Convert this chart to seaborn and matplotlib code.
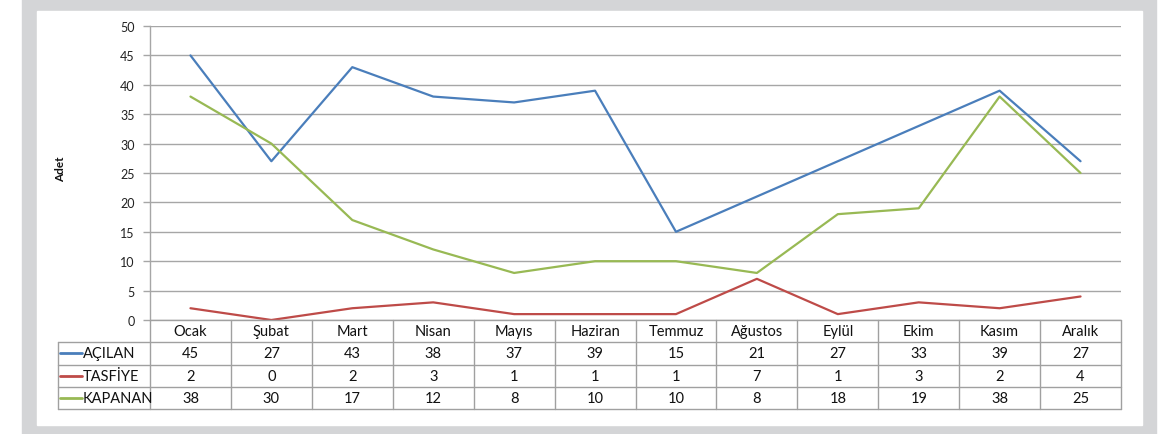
import pandas as pd
import matplotlib
matplotlib.use("Agg")
import matplotlib.pyplot as plt
import seaborn as sns
from matplotlib.patches import Rectangle

months = ["Ocak", "Şubat", "Mart", "Nisan", "Mayıs", "Haziran",
          "Temmuz", "Ağustos", "Eylül", "Ekim", "Kasım", "Aralık"]
acilan = [45, 27, 43, 38, 37, 39, 15, 21, 27, 33, 39, 27]
tasfiye = [2, 0, 2, 3, 1, 1, 1, 7, 1, 3, 2, 4]
kapanan = [38, 30, 17, 12, 8, 10, 10, 8, 18, 19, 38, 25]
series_names = ["AÇILAN", "TASFİYE", "KAPANAN"]
colors = ["#4a7ebb", "#be4b48", "#98b954"]
y_ticks = [0, 5, 10, 15, 20, 25, 30, 35, 40, 45, 50]

sns.set_theme(style="white")
plt.rcParams["font.family"] = ["Lato", "DejaVu Sans"]

W, H = 1167, 435
fig = plt.figure(figsize=(W / 100, H / 100), dpi=100)

# cadre gris + fond blanc
fig.patches.append(Rectangle((22 / W, 0), (1156 - 22) / W, 1, transform=fig.transFigure,
                             color="#d4d5d7", zorder=-10))
fig.patches.append(Rectangle((37 / W, 1 - 426 / H), (1142 - 37) / W, (426 - 12) / H,
                             transform=fig.transFigure, color="white", zorder=-9))

left, right, top, bottom = 150, 1121, 27, 321
ax = fig.add_axes([left / W, 1 - bottom / H, (right - left) / W, (bottom - top) / H])
ax.set_facecolor("none")

rows = []
for name, vals in zip(series_names, [acilan, tasfiye, kapanan]):
    for m, v in zip(months, vals):
        rows.append({"Ay": m, "Seri": name, "Adet": v})
df = pd.DataFrame(rows)

sns.lineplot(data=df, x="Ay", y="Adet", hue="Seri", hue_order=series_names,
             palette=colors, sort=False, linewidth=1.6, legend=False, ax=ax)

ax.set_xlim(-0.5, len(months) - 0.5)
ax.set_ylim(0, 50)
ax.set_yticks(y_ticks)
ax.set_yticklabels([str(t) for t in y_ticks], fontsize=9, color="#222222")
ax.set_xticks([])
ax.set_xlabel("")
ax.set_ylabel("")
ax.yaxis.grid(True, color="#a6a6a6", linewidth=1)
ax.tick_params(axis="y", which="both", left=True, length=5, width=1, color="#a6a6a6", pad=6)
for s in ["top", "right", "bottom"]:
    ax.spines[s].set_visible(False)
ax.spines["left"].set_color("#a6a6a6")
ax.spines["left"].set_linewidth(1)
ax.set_axisbelow(True)

fig.text(61 / W, 1 - 169 / H, "Adet", rotation=90, ha="center", va="center",
         fontsize=8.5, fontweight="bold", color="#111111")

# tableau de données
cat_w = (right - left) / len(months)
leg_left = 58
tab_bottom = 410
tax = fig.add_axes([leg_left / W, 1 - tab_bottom / H, (right - leg_left) / W, (tab_bottom - bottom) / H])
x0 = -0.5 - (left - leg_left) / cat_w
tax.set_xlim(x0, len(months) - 0.5)
tax.set_ylim(4, 0)
tax.axis("off")
lc = "#a0a0a0"
# lignes horizontales
tax.plot([-0.5, len(months) - 0.5], [0, 0], color=lc, lw=1, clip_on=False)
for r in [1, 2, 3, 4]:
    tax.plot([x0, len(months) - 0.5], [r, r], color=lc, lw=1, clip_on=False)
# lignes verticales
for i in range(len(months) + 1):
    tax.plot([i - 0.5, i - 0.5], [0, 4], color=lc, lw=1, clip_on=False)
tax.plot([x0, x0], [1, 4], color=lc, lw=1, clip_on=False)

fs = 10.5
for i, m in enumerate(months):
    tax.text(i, 0.5, m, ha="center", va="center", fontsize=fs, color="#111111")
for r, (name, vals, c) in enumerate(zip(series_names, [acilan, tasfiye, kapanan], colors)):
    y = r + 1.5
    tax.plot([x0 + 0.03, x0 + 0.3], [y, y], color=c, lw=2, clip_on=False)
    tax.text(x0 + 0.31, y, name, ha="left", va="center", fontsize=fs, color="#111111")
    for i, v in enumerate(vals):
        tax.text(i, y, str(v), ha="center", va="center", fontsize=fs, color="#111111")

fig.savefig("out.png", dpi=100)
